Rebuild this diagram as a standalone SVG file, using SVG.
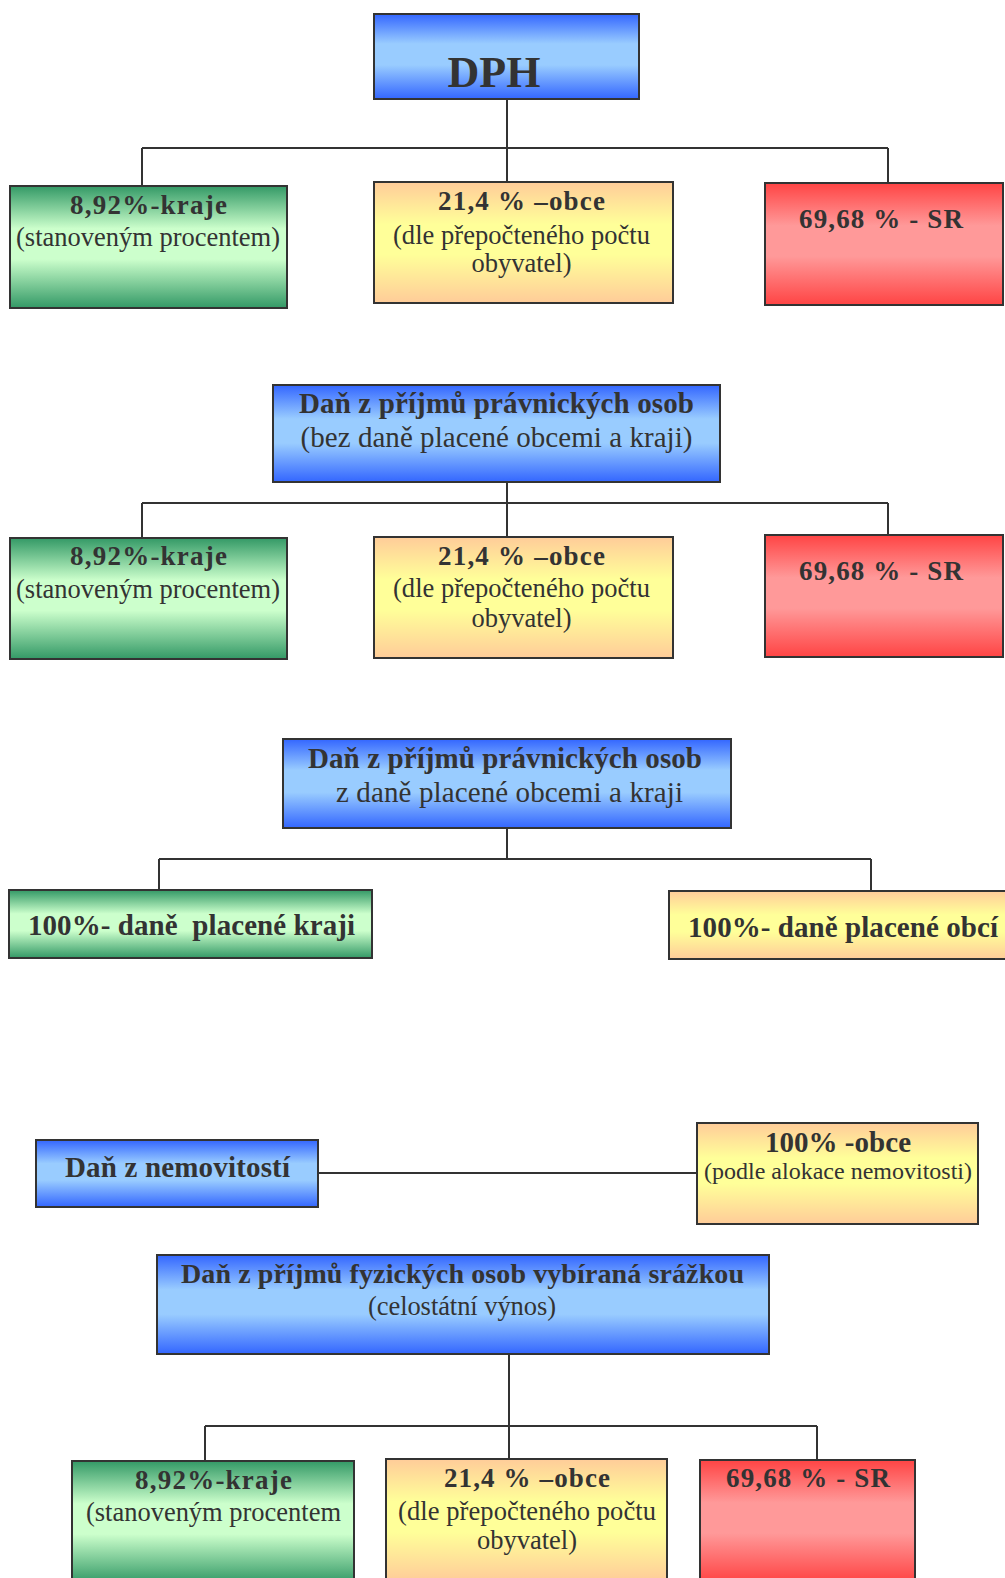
<svg xmlns="http://www.w3.org/2000/svg" width="1005" height="1578" viewBox="0 0 1005 1578">
<defs>
<linearGradient id="gBlue" x1="0" y1="0" x2="0" y2="1"><stop offset="0" stop-color="#3366ff"/><stop offset="0.35" stop-color="#99ccff"/><stop offset="0.6" stop-color="#99ccff"/><stop offset="1" stop-color="#3366ff"/></linearGradient>
<linearGradient id="gGreen" x1="0" y1="0" x2="0" y2="1"><stop offset="0" stop-color="#339966"/><stop offset="0.35" stop-color="#ccffcc"/><stop offset="0.6" stop-color="#ccffcc"/><stop offset="1" stop-color="#339966"/></linearGradient>
<linearGradient id="gOrange" x1="0" y1="0" x2="0" y2="1"><stop offset="0" stop-color="#ffcc99"/><stop offset="0.35" stop-color="#ffff99"/><stop offset="0.6" stop-color="#ffff99"/><stop offset="1" stop-color="#ffcc99"/></linearGradient>
<linearGradient id="gRed" x1="0" y1="0" x2="0" y2="1"><stop offset="0" stop-color="#ff4444"/><stop offset="0.35" stop-color="#ff9999"/><stop offset="0.6" stop-color="#ff9999"/><stop offset="1" stop-color="#ff4444"/></linearGradient>
</defs>
<style>
.box{stroke:#333333;stroke-width:2}
.blue{fill:url(#gBlue)}
.green{fill:url(#gGreen)}
.orange{fill:url(#gOrange)}
.red{fill:url(#gRed)}
text{font-family:"Liberation Serif","Times New Roman",serif;fill:#333333;text-anchor:middle}
.b{font-weight:bold;font-size:27px}
.r{font-size:26.5px}
.b29{font-weight:bold;font-size:29px}
.r29{font-size:29px}
.conn path{fill:none;stroke:#333333;stroke-width:2}
</style>
<g id="connectors" class="conn">
<path d="M507 99V148M142 148H888M142 148V186M507 148V182M888 148V183"/>
<path d="M507 482V503M142 503H888M142 503V538M507 503V537M888 503V535"/>
<path d="M507 828V859M159 859H871M159 859V890M871 859V891"/>
<path d="M318 1173H697"/>
<path d="M509 1354V1426M205 1426H817M205 1426V1461M509 1426V1459M817 1426V1460"/>
</g>
<g id="dph">
<rect class="box blue" x="374" y="14" width="265" height="85"/>
<text x="494" y="87" style="font-weight:bold;font-size:44px">DPH</text>
</g>
<g id="dph-kraje">
<rect class="box green" x="10" y="186" width="277" height="122"/>
<text class="b" x="148.5" y="214" textLength="157">8,92%-kraje</text>
<text class="r" x="148" y="246" textLength="264">(stanoveným procentem)</text>
</g>
<g id="dph-obce">
<rect class="box orange" x="374" y="182" width="299" height="121"/>
<text class="b" x="521.5" y="210" textLength="167">21,4 % –obce</text>
<text class="r" x="521.5" y="244" textLength="257">(dle přepočteného počtu</text>
<text class="r" x="521.5" y="272">obyvatel)</text>
</g>
<g id="dph-sr">
<rect class="box red" x="765" y="183" width="238" height="122"/>
<text class="b" x="881" y="228" textLength="164">69,68 % - SR</text>
</g>
<g id="dppo">
<rect class="box blue" x="273" y="385" width="447" height="97"/>
<text class="b29" x="496.5" y="413" textLength="395">Daň z příjmů právnických osob</text>
<text class="r29" x="496.5" y="447" textLength="392">(bez daně placené obcemi a kraji)</text>
</g>
<g id="dppo-kraje">
<rect class="box green" x="10" y="538" width="277" height="121"/>
<text class="b" x="148.5" y="565" textLength="157">8,92%-kraje</text>
<text class="r" x="148" y="598" textLength="264">(stanoveným procentem)</text>
</g>
<g id="dppo-obce">
<rect class="box orange" x="374" y="537" width="299" height="121"/>
<text class="b" x="521.5" y="565" textLength="167">21,4 % –obce</text>
<text class="r" x="521.5" y="597" textLength="257">(dle přepočteného počtu</text>
<text class="r" x="521.5" y="627">obyvatel)</text>
</g>
<g id="dppo-sr">
<rect class="box red" x="765" y="535" width="238" height="122"/>
<text class="b" x="881" y="580" textLength="164">69,68 % - SR</text>
</g>
<g id="dppo2">
<rect class="box blue" x="283" y="739" width="448" height="89"/>
<text class="b29" x="505" y="768" textLength="394">Daň z příjmů právnických osob</text>
<text class="r29" x="509.5" y="802" textLength="347">z daně placené obcemi a kraji</text>
</g>
<g id="dppo2-kraje">
<rect class="box green" x="9" y="890" width="363" height="68"/>
<text class="b29" x="191.5" y="935" textLength="327" xml:space="preserve">100%- daně  placené kraji</text>
</g>
<g id="dppo2-obce">
<rect class="box orange" x="669" y="891" width="345" height="68"/>
<text class="b29" x="843" y="937" textLength="310">100%- daně placené obcí</text>
</g>
<g id="dn">
<rect class="box blue" x="36" y="1140" width="282" height="67"/>
<text class="b29" x="177.5" y="1177" textLength="225">Daň z nemovitostí</text>
</g>
<g id="dn-obce">
<rect class="box orange" x="697" y="1123" width="281" height="101"/>
<text class="b29" x="838" y="1152" textLength="146">100% -obce</text>
<text x="838" y="1179" style="font-size:24px" textLength="268">(podle alokace nemovitosti)</text>
</g>
<g id="dpfo">
<rect class="box blue" x="157" y="1255" width="612" height="99"/>
<text x="462.5" y="1283" style="font-weight:bold;font-size:28px" textLength="563">Daň z příjmů fyzických osob vybíraná srážkou</text>
<text class="r" x="462" y="1315" textLength="188">(celostátní výnos)</text>
</g>
<g id="dpfo-kraje">
<rect class="box green" x="72" y="1461" width="282" height="122"/>
<text class="b" x="213.5" y="1489" textLength="157">8,92%-kraje</text>
<text class="r" x="213.5" y="1521" textLength="255">(stanoveným procentem</text>
</g>
<g id="dpfo-obce">
<rect class="box orange" x="386" y="1459" width="281" height="122"/>
<text class="b" x="527" y="1487" textLength="166">21,4 % –obce</text>
<text class="r" x="527" y="1520" textLength="258">(dle přepočteného počtu</text>
<text class="r" x="527" y="1549">obyvatel)</text>
</g>
<g id="dpfo-sr">
<rect class="box red" x="700" y="1460" width="215" height="122"/>
<text class="b" x="808" y="1487" textLength="164">69,68 % - SR</text>
</g>
</svg>
